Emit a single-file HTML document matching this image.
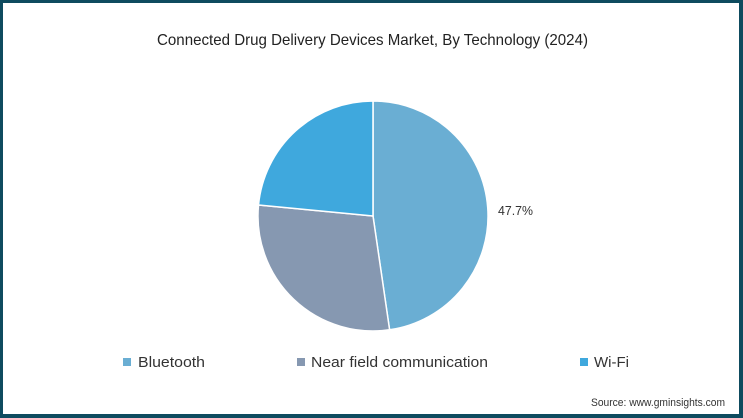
<!DOCTYPE html>
<html>
<head>
<meta charset="utf-8">
<style>
  html,body{margin:0;padding:0;background:#fff;}
  body{width:743px;height:418px;overflow:hidden;}
  svg{display:block;}
  text{font-family:"Liberation Sans",sans-serif;}
</style>
</head>
<body>
<svg width="743" height="418" viewBox="0 0 743 418" xmlns="http://www.w3.org/2000/svg">
  <rect x="0" y="0" width="743" height="418" fill="#0e4b5f"/>
  <rect x="3" y="3" width="736" height="411" fill="#ffffff"/>

  <text x="157" y="45" font-size="16" fill="#222" textLength="431" lengthAdjust="spacingAndGlyphs">Connected Drug Delivery Devices Market, By Technology (2024)</text>

  <g stroke="#ffffff" stroke-width="1.5" stroke-linejoin="round">
    <path d="M373,216 L373,101 A115,115 0 0 1 389.6,329.8 Z" fill="#6aaed3"/>
    <path d="M373,216 L389.6,329.8 A115,115 0 0 1 258.5,205 Z" fill="#8698b1"/>
    <path d="M373,216 L258.5,205 A115,115 0 0 1 373,101 Z" fill="#3fa8dd"/>
  </g>

  <text x="498" y="215" font-size="13" fill="#333" textLength="35" lengthAdjust="spacingAndGlyphs">47.7%</text>

  <rect x="123" y="358" width="8" height="8" fill="#6aaed3"/>
  <text x="138" y="367" font-size="15" fill="#333" textLength="67" lengthAdjust="spacingAndGlyphs">Bluetooth</text>
  <rect x="297" y="358" width="8" height="8" fill="#8698b1"/>
  <text x="311" y="367" font-size="15" fill="#333" textLength="177" lengthAdjust="spacingAndGlyphs">Near field communication</text>
  <rect x="580" y="358" width="8" height="8" fill="#3fa8dd"/>
  <text x="594" y="367" font-size="15" fill="#333" textLength="35" lengthAdjust="spacingAndGlyphs">Wi-Fi</text>

  <text x="591" y="406" font-size="11" fill="#333" textLength="134" lengthAdjust="spacingAndGlyphs">Source: www.gminsights.com</text>
</svg>
</body>
</html>
